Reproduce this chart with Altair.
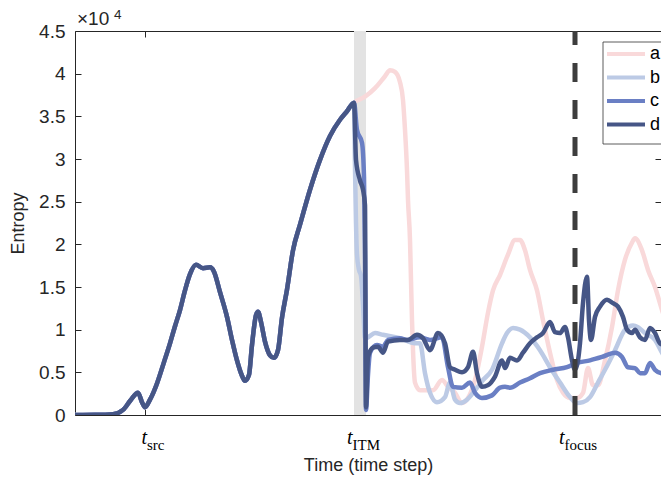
import altair as alt
import pandas as pd

# ---------------- data ----------------
SERIES = ["a", "b", "c", "d"]
COLORS = ["#f9d9da", "#bccae5", "#6a7fc4", "#465686"]

# common part of all four curves (before t_ITM)
SHARED_T = [0, 20, 38, 48, 56, 63, 67, 70, 75, 82, 89, 95, 100, 105, 110, 115, 121, 128, 135, 139,
            145, 152, 157, 162, 167, 170, 174, 177, 181, 183, 186, 190, 195, 199, 203, 207, 212, 218,
            225, 235, 245, 255, 265, 272, 279]
SHARED_V = [0, 20, 100, 600, 1800, 2600, 1500, 900, 1800, 3700, 6200, 8400, 10400, 12300, 14600, 16500,
            17600, 17200, 17300, 16800, 14400, 11500, 8800, 6400, 4600, 4000, 4700, 8200, 11700, 12100,
            10900, 8600, 7000, 6700, 7600, 11400, 14700, 19300, 22300, 26400, 29900, 32700, 34600,
            35600, 36600]

A_T = [290, 300, 310, 315, 320, 325, 328, 330, 332, 333, 335, 336, 337, 338, 340, 345, 358, 367, 373, 380,
       387, 393, 400, 407, 413, 418, 425, 433, 440, 445, 450, 455, 462, 468, 475, 482, 488, 495, 502, 508,
       513, 518, 523, 530, 537, 543, 550, 557, 560, 567, 573, 580, 587, 594]
A_V = [37300, 38300, 39700, 40400, 40200, 39000, 36900, 33400, 28700, 25200, 20500, 15800, 11100, 7600,
       3800, 2900, 2900, 4100, 3300, 2600, 1400, 2000, 4100, 8000, 12000, 14600, 16400, 18800, 20500,
       20500, 19300, 17000, 14600, 11100, 7300, 4100, 2600, 2000, 2000, 2600, 5500, 3500, 3500, 6400,
       10300, 14600, 18200, 20200, 20700, 19300, 17000, 15000, 12300, 10000]

B_T = [280, 281, 282, 284, 286, 288, 290, 293, 300, 308, 325, 340, 345, 350, 355, 362, 370, 375, 380, 385,
       392, 400, 408, 417, 427, 432, 438, 445, 455, 465, 475, 485, 495, 502, 508, 515, 523, 530, 540, 550,
       558, 563, 570, 580, 587, 594]
B_V = [29000, 22500, 18800, 17000, 16300, 13000, 9000, 9100, 9600, 9400, 9000, 8400, 8400, 4900, 2600,
       1500, 2100, 3800, 1800, 1400, 1800, 2900, 4100, 5300, 8400, 9600, 10200, 10000, 9100, 7600, 5600,
       3800, 2100, 1400, 1500, 2100, 3800, 5300, 7600, 10000, 10500, 10300, 9600, 8800, 7300, 5900]

C_T = [282, 287, 289, 290, 291, 293, 295, 302, 308, 313, 325, 332, 345, 355, 367, 373, 378, 387, 395, 400,
       407, 417, 425, 430, 435, 445, 455, 465, 478, 492, 502, 515, 527, 540, 547, 553, 560, 565, 570, 575,
       580, 587, 594]
C_V = [33400, 31900, 27900, 18200, 600, 4700, 7300, 8200, 8000, 8800, 9000, 8800, 9100, 8800, 9100, 5600,
       3300, 3200, 3800, 2600, 2000, 2300, 3200, 3300, 3200, 3800, 4300, 4900, 5300, 5600, 6100, 6400,
       6800, 7300, 6800, 5600, 5500, 4900, 4900, 6100, 5300, 4900, 5600]

D_T = [281, 285, 288, 290, 291, 293, 298, 303, 308, 313, 325, 333, 342, 348, 355, 363, 370, 375, 380, 387,
       393, 398, 402, 407, 413, 420, 427, 430, 435, 442, 448, 455, 462, 468, 475, 480, 485, 490, 493, 497,
       500, 503, 505, 508, 512, 514, 516, 520, 525, 532, 538, 543, 548, 552, 557, 560, 565, 570, 575, 580,
       585, 590, 594]
D_V = [29900, 27500, 26400, 24600, 900, 6800, 7900, 8000, 7300, 8600, 8800, 8800, 9400, 9000, 7600, 9600,
       8400, 5600, 5300, 5000, 5600, 7400, 4900, 3300, 3500, 4500, 6400, 5500, 6700, 6400, 7300, 8400,
       9100, 9600, 10900, 9700, 9600, 10300, 9100, 6400, 5300, 6400, 8400, 13100, 16200, 11100, 8800,
       11500, 12700, 13500, 13100, 12700, 11500, 10000, 9600, 10000, 9100, 8800, 10200, 9600, 8400, 8200,
       10300]

TICK_T = [70, 285, 500]           # t_src, t_ITM, t_focus
TICK_SUB = ["src", "ITM", "focus"]
Y_TICKS = [0, 5000, 10000, 15000, 20000, 25000, 30000, 35000, 40000, 45000]
BAND_T = [279, 291]               # grey band around t_ITM
T_FOCUS = 500
X_MAX = 586                       # visible part of the time axis
Y_MAX = 45000

# ---------------- layout / style ----------------
W, H = 586, 384
AX = "#262626"
SANS = "Liberation Sans"
SERIF = "Liberation Serif"
LABEL_DX = [2, -7.5, -10.5]
# legend box (pixel layout inside the plot area)
LEG_X, LEG_Y, LEG_ROW = 528, 11, 23.5

post = {"a": (A_T, A_V), "b": (B_T, B_V), "c": (C_T, C_V), "d": (D_T, D_V)}
rows = []
for s in SERIES:
    ts, vs = post[s]
    for t, v in zip(SHARED_T + ts, SHARED_V + vs):
        rows.append({"series": s, "t": t, "entropy": v})
lines_df = pd.DataFrame(rows)

xs = alt.Scale(domain=[0, X_MAX], nice=False, zero=False)
ys = alt.Scale(domain=[0, Y_MAX], nice=False, zero=False)
cs = alt.Scale(domain=SERIES, range=COLORS)


def tick_axis(orient, offset, values):
    return alt.Axis(orient=orient, offset=offset, values=values, labels=False, domain=False,
                    grid=False, ticks=True, tickSize=6, tickColor=AX, tickWidth=1, title=None)


band = alt.Chart(pd.DataFrame({"t0": [BAND_T[0]], "t1": [BAND_T[1]], "y0": [0], "y1": [Y_MAX]})).mark_rect(
    color="#e3e3e3").encode(
    x=alt.X("t0:Q", scale=xs, axis=alt.Axis(orient="bottom", title="Time (time step)", labels=False,
                                              ticks=False, domain=False, grid=False, titleFont=SANS,
                                              titleFontSize=18, titleFontWeight="normal", titleColor=AX,
                                              titlePadding=41)),
    x2="t1:Q",
    y=alt.Y("y0:Q", scale=ys, axis=alt.Axis(orient="left", values=Y_TICKS,
                                              labelExpr="datum.value / 10000 + ''", ticks=False,
                                              tickSize=0, domain=False, grid=False, labelFont=SANS,
                                              labelFontSize=19, labelColor=AX, labelPadding=10,
                                              title="Entropy", titleFont=SANS, titleFontSize=18,
                                              titleFontWeight="normal", titleColor=AX, titlePadding=11)),
    y2="y1:Q",
)

line_layers = []
for i, s in enumerate(SERIES):
    if i == 0:
        xa = tick_axis("bottom", -H, TICK_T)   # top ticks, pointing down
        ya = tick_axis("left", -W, Y_TICKS)    # right ticks, pointing left
    else:
        xa = None
        ya = None
    line_layers.append(
        alt.Chart(lines_df).transform_filter(alt.datum.series == s).mark_line(
            strokeWidth=4.5, interpolate="monotone", strokeJoin="round", clip=True).encode(
            x=alt.X("t:Q", scale=xs, axis=xa),
            y=alt.Y("entropy:Q", scale=ys, axis=ya),
            color=alt.Color("series:N", scale=cs, legend=None),
        )
    )

rule = alt.Chart(pd.DataFrame({"t": [T_FOCUS], "y0": [0], "y1": [Y_MAX]})).mark_rule(
    color="#3d3d3d", strokeWidth=5, strokeDash=[19, 18]).encode(
    x=alt.X("t:Q", scale=xs, axis=tick_axis("top", -H, TICK_T)),      # bottom ticks, pointing up
    y=alt.Y("y0:Q", scale=ys, axis=tick_axis("right", -W, Y_TICKS)),  # left ticks, pointing right
    y2="y1:Q",
)

# ----- legend (drawn by hand, MATLAB style box) -----
legend_layers = []
leg_df = pd.DataFrame({"series": SERIES})
legend_layers.append(
    alt.Chart(pd.DataFrame({"k": [0]})).mark_rect(fill="white", stroke="#333333", strokeWidth=0.8).encode(
        x=alt.value(LEG_X), x2=alt.value(LEG_X + 80), y=alt.value(LEG_Y),
        y2=alt.value(LEG_Y + 8 + LEG_ROW * len(SERIES)))
)
for i, s in enumerate(SERIES):
    one = pd.DataFrame({"series": [s]})
    yy = LEG_Y + 12 + LEG_ROW * i
    legend_layers.append(
        alt.Chart(one).mark_rule(strokeWidth=4).encode(
            x=alt.value(LEG_X + 4), x2=alt.value(LEG_X + 42), y=alt.value(yy),
            color=alt.Color("series:N", scale=cs, legend=None))
    )
    legend_layers.append(
        alt.Chart(one).mark_text(align="left", baseline="middle", font=SANS, fontSize=18,
                                 color="#000000").encode(
            x=alt.value(LEG_X + 47), y=alt.value(yy), text="series:N")
    )

texts = []
exp_df = pd.DataFrame({"m": ["\u00d710"], "e": ["4"]})
texts.append(alt.Chart(exp_df).mark_text(align="left", baseline="alphabetic", font=SANS, fontSize=19,
                                         color=AX).encode(text="m:N", x=alt.value(2), y=alt.value(-6)))
texts.append(alt.Chart(exp_df).mark_text(align="left", baseline="alphabetic", font=SANS, fontSize=13.5,
                                         color=AX).encode(text="e:N", x=alt.value(39), y=alt.value(-12)))

for t, sub, dx in zip(TICK_T, TICK_SUB, LABEL_DX):
    df = pd.DataFrame({"t": [t], "main": ["t"], "sub": [sub]})
    texts.append(alt.Chart(df).mark_text(align="right", baseline="alphabetic", font=SERIF, fontSize=20,
                                         fontStyle="italic", color="#000000", dx=dx).encode(
        x=alt.X("t:Q", scale=xs, axis=None), y=alt.value(413), text="main:N"))
    texts.append(alt.Chart(df).mark_text(align="left", baseline="alphabetic", font=SERIF, fontSize=15,
                                         color="#000000", dx=dx).encode(
        x=alt.X("t:Q", scale=xs, axis=None), y=alt.value(419), text="sub:N"))

chart = alt.layer(band, *line_layers, rule, *legend_layers, *texts).resolve_axis(
    x="independent", y="independent"
).properties(
    width=W, height=H,
    autosize=alt.AutoSizeParams(type="none"),
    padding={"left": 67, "top": 23, "right": 0, "bottom": 62},
).configure_view(stroke=AX, strokeWidth=1)

chart.save("out.html", embed_options={"renderer": "svg", "actions": False})
